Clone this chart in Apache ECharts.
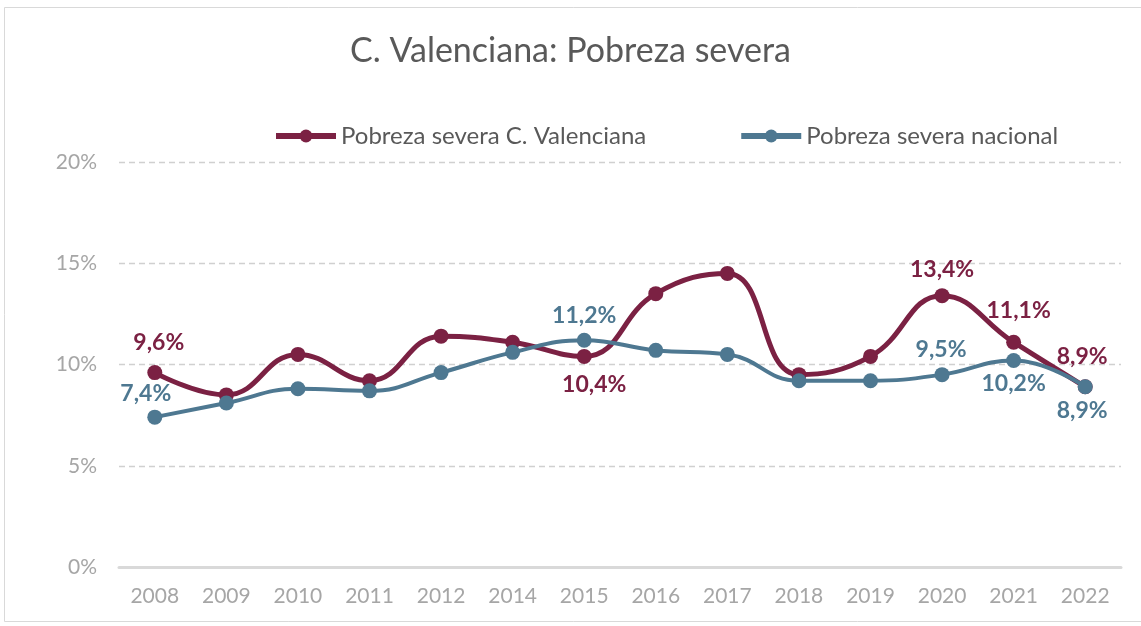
<!DOCTYPE html>
<html><head><meta charset="utf-8">
<script src="https://cdn.jsdelivr.net/npm/echarts@6/dist/echarts.min.js"></script>
<style>html,body{margin:0;padding:0;background:#fff}#c{width:1141px;height:626px}</style>
</head><body><div id="c"></div>
<script>
const categories = ['2008','2009','2010','2011','2012','2014','2015','2016','2017','2018','2019','2020','2021','2022'];
const valenciana = [9.6, 8.5, 10.5, 9.2, 11.4, 11.1, 10.4, 13.5, 14.5, 9.5, 10.4, 13.4, 11.1, 8.9];
const nacional = [7.4, 8.1, 8.8, 8.7, 9.6, 10.6, 11.2, 10.7, 10.5, 9.2, 9.2, 9.5, 10.2, 8.9];
const yTicks = [0, 5, 10, 15, 20];

const RED = '#7b2143', BLUE = '#4e7891';
const FONT = 'Lato, "Open Sans", sans-serif';
const fmt = v => String(v.toFixed(1)).replace('.', ',') + '%';

// label placement per category index (style only)
const redLabels = {0:{position:'top', offset:[4,-6]}, 6:{position:'bottom', offset:[10,4]}, 11:{position:'top', offset:[0,-2]}, 12:{position:'top', offset:[5,-8]}, 13:{position:'top', offset:[-3,-6]}};
const blueLabels = {0:{position:'top', offset:[-9,0]}, 6:{position:'top', offset:[0,-1]}, 11:{position:'top', offset:[-1,-1]}, 12:{position:'bottom', offset:[0,-1]}, 13:{position:'bottom', offset:[-3,0]}};

function build(values, labels, color) {
  return values.map((v, i) => {
    const l = labels[i];
    return l ? {value: v, label: {show: true, position: l.position, offset: l.offset, color: color,
      fontSize: 23, fontWeight: 'bold', fontFamily: FONT, formatter: p => fmt(p.value)}} : {value: v};
  });
}

const chart = echarts.init(document.getElementById('c'), null, {renderer: 'canvas'});
chart.setOption({
  animation: false,
  backgroundColor: '#fff',
  graphic: [{type: 'rect', shape: {x: 4.5, y: 7.5, width: 1200, height: 614}, style: {fill: 'none', stroke: '#d9d9d9', lineWidth: 1}, silent: true}],
  title: {text: 'C. Valenciana: Pobreza severa', left: 'center', top: 29,
    textStyle: {fontFamily: FONT, fontSize: 34, fontWeight: 'normal', color: '#595959'}},
  legend: {top: 119, left: 268, itemGap: 92, itemWidth: 60, itemHeight: 16,
    lineStyle: {width: 6},
    textStyle: {fontFamily: FONT, fontSize: 24, color: '#595959'},
    data: ['Pobreza severa C. Valenciana', 'Pobreza severa nacional']},
  grid: {left: 119, right: 20, top: 162, bottom: 59},
  xAxis: {type: 'category', data: categories, boundaryGap: true,
    axisLine: {lineStyle: {color: '#d9d9d9', width: 3}}, axisTick: {show: false},
    axisLabel: {color: '#a6a6a6', fontSize: 21, margin: 19, fontFamily: FONT}},
  yAxis: {type: 'value', min: yTicks[0], max: yTicks[yTicks.length-1], interval: 5,
    axisLine: {show: false}, axisTick: {show: false},
    axisLabel: {color: '#a6a6a6', fontSize: 21, margin: 22, formatter: v => v + '%', fontFamily: FONT},
    splitLine: {lineStyle: {color: '#d0d0d0', type: [6, 4], width: 1.3}}},
  series: [
    {name: 'Pobreza severa C. Valenciana', type: 'line', smooth: 0.45, data: build(valenciana, redLabels, RED),
      symbol: 'circle', symbolSize: 15, lineStyle: {color: RED, width: 5}, itemStyle: {color: RED}, z: 2},
    {name: 'Pobreza severa nacional', type: 'line', smooth: 0.45, data: build(nacional, blueLabels, BLUE),
      symbol: 'circle', symbolSize: 15, lineStyle: {color: BLUE, width: 4}, itemStyle: {color: BLUE}, z: 3}
  ]
});
</script></body></html>
